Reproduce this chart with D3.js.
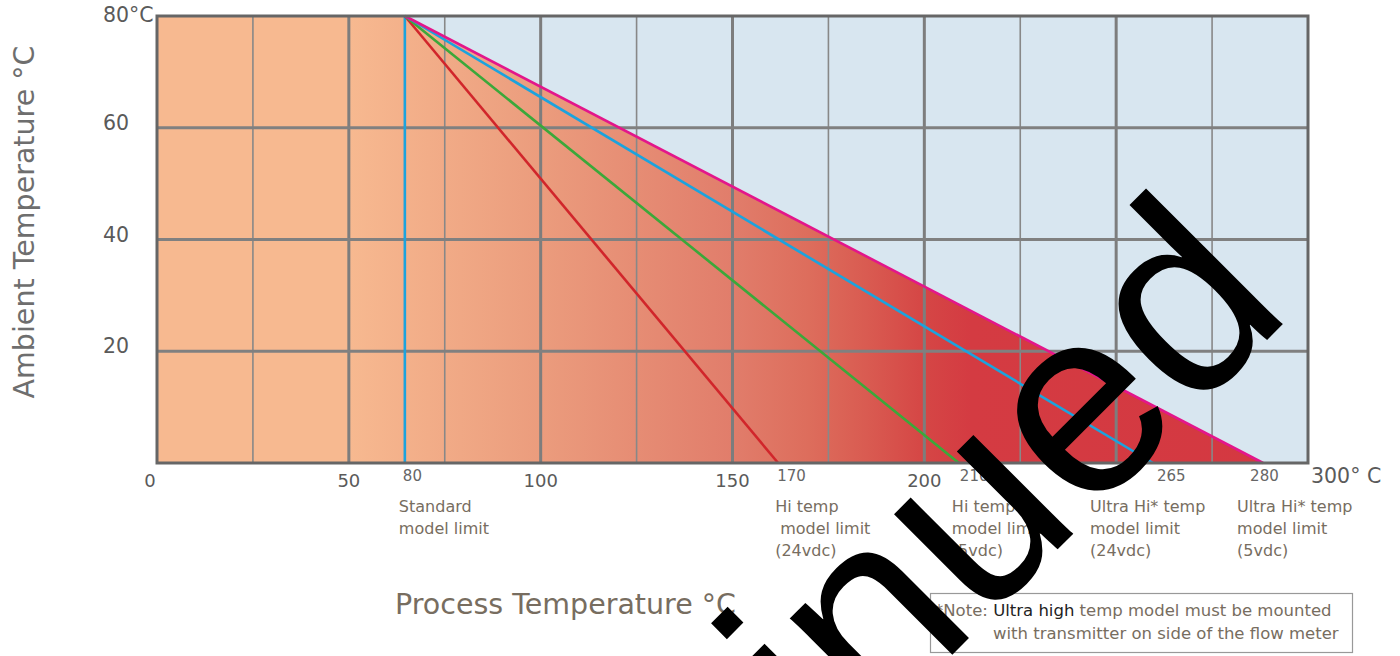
<!DOCTYPE html>
<html lang="en" dir="ltr">
  <head>
    <meta charset="utf-8">
    <title>Temperature limits</title>
    <script src="https://d3js.org/d3.v7.min.js"></script>
    <style>
      body { margin: 0; background: #fff; }
      text { font-family: "DejaVu Sans", "Open Sans", sans-serif; }
    </style>
  </head>
  <body>
    <div id="chart"></div>
    <script type="text/javascript">
      // axis ticks
      var xTicks = [0, 50, 100, 150, 200];
      var xGrid = [25, 50, 75, 100, 125, 150, 175, 200, 225, 250, 275];
      var yTicks = [20, 40, 60, 80];
      var yTickLabels = ["20", "40", "60", "80°C"];
      var xEndLabel = "300° C";

      // model limits: rated value, where the line meets 0 °C on the drawn axis
      var limitValues = [80, 170, 210, 265, 280];
      var limitEnds = [64.6, 161.9, 209.0, 259.6, 288.3];
      var limitStart = 64.6;   // all lines leave the 80 °C line here
      var maxAmbient = 80;
      var limitNames = [
        ["Standard", "model limit"],
        ["Hi temp", " model limit", "(24vdc)"],
        ["Hi temp", "model limit", "(5vdc)"],
        ["Ultra Hi* temp", "model limit", "(24vdc)"],
        ["Ultra Hi* temp", "model limit", "(5vdc)"]
      ];

      // styling kept away from the data
      var limitColors = ["#1ba3de", "#d1262b", "#3ba83a", "#1ba3de", "#e3168b"];
      var numberDx = [-2, -1, 1, 4, -13];
      var nameDx = [-6, -3, -7, -63, -26];

      var width = 1400, height = 656;
      var svgContainer = d3.select("#chart")
        .append("svg")
        .attr("width", width)
        .attr("height", height);

      var xScale = d3.scaleLinear().domain([0, 300]).range([157, 1308]);
      var yScale = d3.scaleLinear().domain([0, 80]).range([463, 16]);

      // gradient for the operating area
      var defs = svgContainer.append("defs");
      var grad = defs.append("linearGradient")
        .attr("id", "heat")
        .attr("gradientUnits", "userSpaceOnUse")
        .attr("x1", xScale(0)).attr("x2", xScale(300))
        .attr("y1", 0).attr("y2", 0);
      var stops = [
        [50, "#f7b990"], [100, "#eb9c7d"], [150, "#e17d6b"], [170, "#dd6d5c"],
        [185, "#d95b51"], [200, "#d54645"], [212, "#d43b42"], [300, "#d43841"]
      ];
      grad.selectAll("stop")
        .data(stops)
        .enter()
        .append("stop")
          .attr("offset", (d) => (d[0] / 300 * 100) + "%")
          .attr("stop-color", (d) => d[1]);

      // background (outside operating area)
      svgContainer.append("rect")
        .attr("x", xScale(0))
        .attr("y", yScale(80))
        .attr("width", xScale(300) - xScale(0))
        .attr("height", yScale(0) - yScale(80))
        .attr("fill", "#d8e6f0");

      // operating area under the highest limit line
      var area = [[0, 0], [0, maxAmbient], [limitStart, maxAmbient], [limitEnds[4], 0]];
      svgContainer.append("path")
        .attr("d", d3.line().x((d) => xScale(d[0])).y((d) => yScale(d[1]))(area) + "Z")
        .attr("fill", "url(#heat)");

      // grid
      svgContainer.selectAll(".vgrid")
        .data(xGrid)
        .enter()
        .append("line")
          .attr("x1", (d) => xScale(d)).attr("x2", (d) => xScale(d))
          .attr("y1", yScale(80)).attr("y2", yScale(0))
          .attr("stroke", (d) => d % 50 == 0 ? "#7d7d7d" : "#888")
          .attr("stroke-width", (d) => d % 50 == 0 ? 3 : 1.6);

      svgContainer.selectAll(".hgrid")
        .data([20, 40, 60])
        .enter()
        .append("line")
          .attr("x1", xScale(0)).attr("x2", xScale(300))
          .attr("y1", (d) => yScale(d)).attr("y2", (d) => yScale(d))
          .attr("stroke", "#808080")
          .attr("stroke-width", 3);

      // limit lines
      var lineGen = d3.line().x((d) => xScale(d[0])).y((d) => yScale(d[1]));
      svgContainer.selectAll(".limit")
        .data(limitEnds)
        .enter()
        .append("path")
          .attr("d", (d) => lineGen([[limitStart, maxAmbient], [d, 0]]))
          .attr("stroke", (d, i) => limitColors[i])
          .attr("stroke-width", 2.6)
          .attr("fill", "none");

      // frame
      svgContainer.append("rect")
        .attr("x", xScale(0))
        .attr("y", yScale(80))
        .attr("width", xScale(300) - xScale(0))
        .attr("height", yScale(0) - yScale(80))
        .attr("fill", "none")
        .attr("stroke", "#666")
        .attr("stroke-width", 3);

      // x tick labels
      svgContainer.selectAll(".xtick")
        .data(xTicks)
        .enter()
        .append("text")
          .attr("x", (d) => xScale(d) - (d == 0 ? 7 : 0))
          .attr("y", 487)
          .attr("text-anchor", "middle")
          .style("font-size", "18px")
          .style("fill", "#5a5a5a")
          .text((d) => d);

      svgContainer.append("text")
        .attr("x", xScale(300) + 3)
        .attr("y", 483)
        .style("font-size", "20.5px")
        .style("fill", "#5a5a5a")
        .text(xEndLabel);

      // y tick labels
      svgContainer.selectAll(".ytick")
        .data(yTicks)
        .enter()
        .append("text")
          .attr("x", 103)
          .attr("y", (d) => yScale(d) + (d == 80 ? 6 : 2))
          .style("font-size", "20.5px")
          .style("fill", "#5a5a5a")
          .text((d, i) => yTickLabels[i]);

      // limit values and names
      svgContainer.selectAll(".limitval")
        .data(limitValues)
        .enter()
        .append("text")
          .attr("x", (d, i) => xScale(limitEnds[i]) + numberDx[i])
          .attr("y", 481)
          .style("font-size", "15px")
          .style("fill", "#666")
          .text((d) => d);

      var nameGroups = svgContainer.selectAll(".limitname")
        .data(limitNames)
        .enter()
        .append("text")
          .attr("x", (d, i) => xScale(limitEnds[i]) + nameDx[i])
          .attr("y", 512)
          .style("font-size", "16px")
          .style("fill", "#776d60")
          .style("white-space", "pre");

      nameGroups.selectAll("tspan")
        .data((d, i) => d.map((t) => ({t: t, x: xScale(limitEnds[i]) + nameDx[i]})))
        .enter()
        .append("tspan")
          .attr("x", (d) => d.x)
          .attr("dy", (d, j) => j == 0 ? 0 : 22)
          .text((d) => d.t);

      // axis titles
      svgContainer.append("text")
        .attr("x", 395)
        .attr("y", 614)
        .style("font-size", "28.5px")
        .style("fill", "#776d60")
        .text("Process Temperature °C");

      svgContainer.append("text")
        .attr("transform", "translate(34, 222)rotate(-90)")
        .attr("text-anchor", "middle")
        .style("font-size", "28.5px")
        .style("fill", "#6e6e6e")
        .text("Ambient Temperature °C");

      // note box
      svgContainer.append("rect")
        .attr("x", 930.5).attr("y", 593.5)
        .attr("width", 422).attr("height", 59)
        .attr("fill", "none")
        .attr("stroke", "#999")
        .attr("stroke-width", 1.2);

      var note = svgContainer.append("text")
        .attr("x", 935)
        .attr("y", 616)
        .style("font-size", "16.5px")
        .style("fill", "#776d60");
      note.append("tspan").text("*Note: ");
      note.append("tspan").style("fill", "#222").text("Ultra high");
      note.append("tspan").text(" temp model must be mounted");
      note.append("tspan").attr("x", 993).attr("dy", 23).text("with transmitter on side of the flow meter");

      // watermark
      svgContainer.append("text")
        .attr("transform", "translate(1295, 312)rotate(-45)")
        .attr("text-anchor", "end")
        .style("font-family", "'Liberation Sans', Arial, sans-serif")
        .style("font-size", "266px")
        .style("fill", "#000")
        .text("Discontinued");
    </script>
  </body>
</html>
